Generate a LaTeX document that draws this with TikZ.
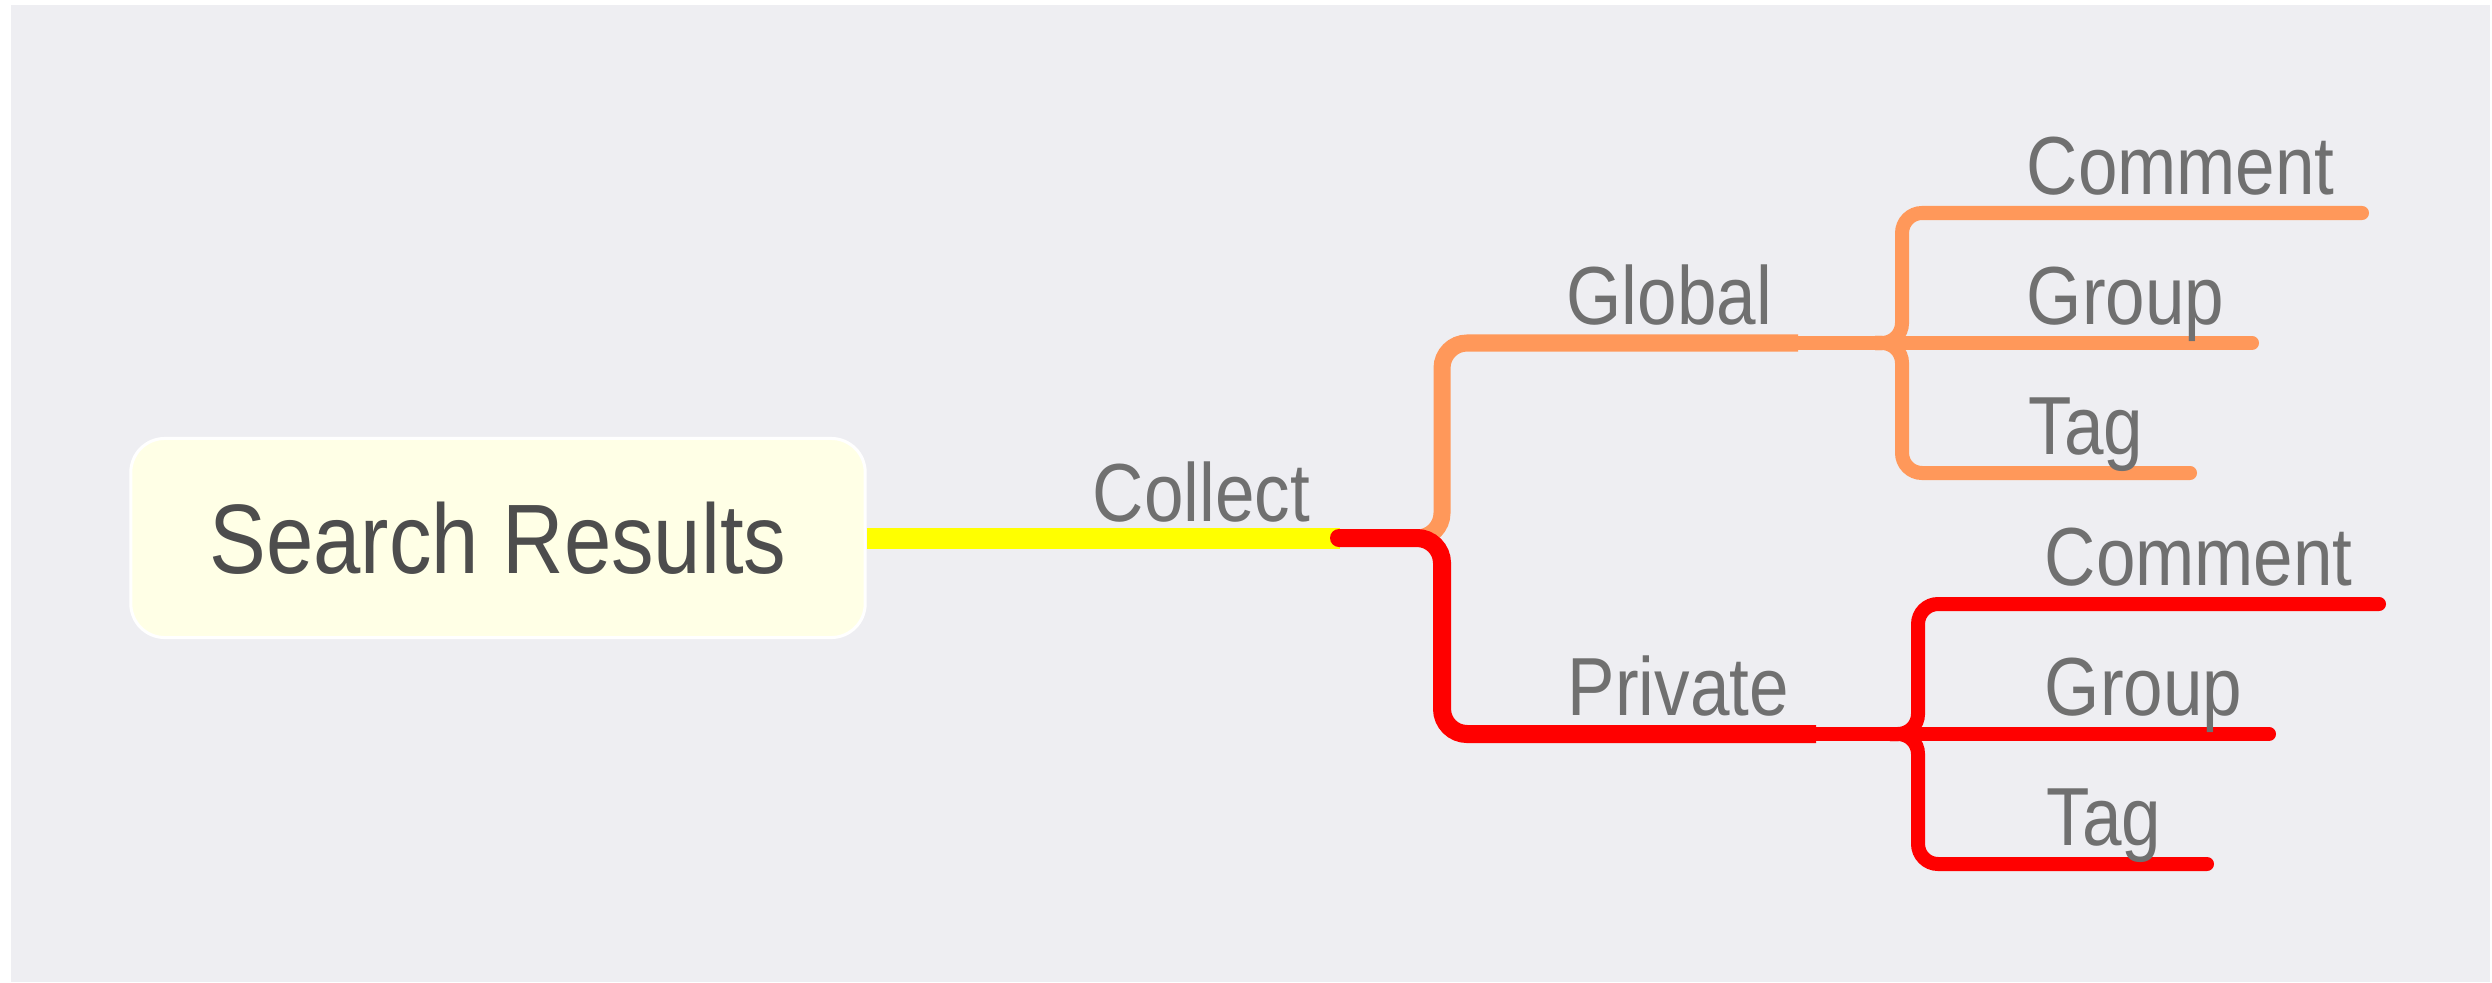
\documentclass[tikz,border=0pt]{standalone}
\usepackage{fontspec}
\setmainfont{Liberation Sans}
\newcommand{\tallword}[1]{\scalebox{1}[1.16]{#1}}
\definecolor{bggray}{HTML}{EEEEF2}
\definecolor{rootfill}{HTML}{FFFFE6}
\definecolor{roottext}{HTML}{4D4D4D}
\definecolor{labeltext}{HTML}{707070}
\definecolor{collectyellow}{HTML}{FFFF00}
\definecolor{globalorange}{HTML}{FF985A}
\definecolor{privatered}{HTML}{FF0000}
\tikzset{
  rootbox/.style={draw=white, line width=0.03cm, fill=rootfill, rounded corners=0.34cm,
    minimum width=7.34cm, minimum height=1.99cm, inner sep=0pt, text=roottext,
    font=\fontsize{24.2}{29}\selectfont},
  branchlabel/.style={anchor=base west, inner sep=0pt, text=labeltext,
    font=\fontsize{20.2}{24}\selectfont},
  trunkline/.style={line width=0.17cm, rounded corners=0.25cm},
  twigline/.style={line width=0.14cm, line cap=round, rounded corners=0.2cm},
}
\begin{document}
\begin{tikzpicture}[x=0.01cm, y=-0.01cm]
  % page and background
  \fill[white] (0,0) rectangle (2492,982);
  \fill[bggray] (11,5) rectangle (2490,982);
  \useasboundingbox (0,0) rectangle (2492,982);

  % Root topic
  \node[rootbox] (root) at (498,538) {\tallword{Search Results}};

  % Ends of the branch lines
  \coordinate (collect-end) at (1340,538);
  \coordinate (global-end) at (1798,343);
  \coordinate (private-end) at (1816,734);
  \coordinate (g-comment-end) at (2362,213);
  \coordinate (g-group-end) at (2252,343);
  \coordinate (g-tag-end) at (2190,473);
  \coordinate (p-comment-end) at (2379,604);
  \coordinate (p-group-end) at (2269,734);
  \coordinate (p-tag-end) at (2207,864);

  % Branch Collect
  \draw[collectyellow, line width=0.21cm] (root.east) -- (collect-end);%

  % Branch Global
  \draw[globalorange, trunkline] (1400,538) -| (1442,343) -- (global-end);%

  % Branch Private
  \draw[privatered, trunkline, line width=0.18cm] (1339,538) -| (1442,734) -- (private-end);%
  \fill[privatered] (1339,538) circle (0.09cm);%

  % Children of Global
  \draw[globalorange, twigline] (1875,343) -| (1902,213) -- (g-comment-end);%
  \draw[globalorange, twigline] (global-end) -- (g-group-end);%
  \draw[globalorange, twigline] (1875,343) -| (1902,473) -- (g-tag-end);%

  % Children of Private
  \draw[privatered, twigline] (1890,734) -| (1918,604) -- (p-comment-end);%
  \draw[privatered, twigline] (private-end) -- (p-group-end);%
  \draw[privatered, twigline] (1890,734) -| (1918,864) -- (p-tag-end);%

  % Labels
  \node[branchlabel] (collect) at (1092,521) {\tallword{Collect}};
  \node[branchlabel] (global) at (1566,324) {\tallword{Global}};
  \node[branchlabel] (private) at (1567,715) {\tallword{Private}};
  \node[branchlabel] (g-comment) at (2026,194) {\tallword{Comment}};
  \node[branchlabel] (g-group) at (2026,324) {\tallword{Group}};
  \node[branchlabel] (g-tag) at (2028,454) {\tallword{Tag}};
  \node[branchlabel] (p-comment) at (2044,585) {\tallword{Comment}};
  \node[branchlabel] (p-group) at (2044,715) {\tallword{Group}};
  \node[branchlabel] (p-tag) at (2046,845) {\tallword{Tag}};
\end{tikzpicture}
\end{document}
